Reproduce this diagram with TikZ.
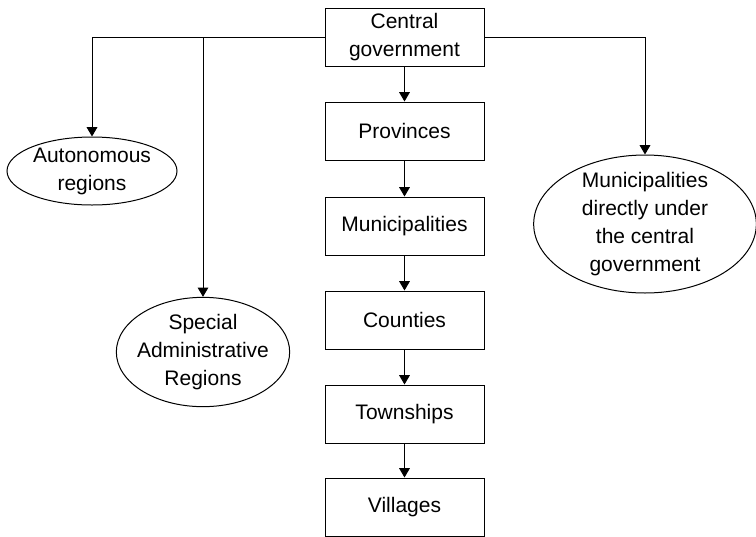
\documentclass[tikz,border=0pt]{standalone}
\usepackage{fontspec}
\setmainfont{Liberation Sans}
\usetikzlibrary{shapes.geometric,arrows.meta}

\begin{document}
\begin{tikzpicture}[x=0.75pt, y=-0.75pt,
  every node/.style={font=\fontsize{15.75}{21}\selectfont, align=center, inner sep=0pt},
  unit/.style={draw, line width=0.75pt, minimum width=119.25pt, minimum height=43.5pt},
  oval/.style={draw, ellipse, line width=0.75pt},
  link/.style={-{Triangle[width=8pt,length=7pt]}, line width=0.75pt}]
\useasboundingbox (0,0) rectangle (756,536);
% main chain
\node [unit] (central) at (404.5,37) {Central\\government};
\node [unit] (prov) at (404.5,131) {Provinces};
\node [unit] (munic) at (404.5,226) {Municipalities};
\node [unit] (county) at (404.5,320) {Counties};
\node [unit] (town) at (404.5,414) {Townships};
\node [unit] (village) at (404.5,507) {Villages};
% side branches
\node [oval, minimum width=127.5pt, minimum height=51pt] (auto) at (92,171) {Autonomous\\regions};
\node [oval, inner xsep=-6pt, inner ysep=-3pt, minimum width=130pt, minimum height=82pt] (sar) at (203,352) {Special\\Administrative\\Regions};
\node [oval, inner ysep=-5pt, minimum width=167pt, minimum height=103.5pt] (direct) at (645,224) {Municipalities\\directly under\\the central\\government};
\draw [link] (central) -- (prov);
\draw [link] (prov) -- (munic);
\draw [link] (munic) -- (county);
\draw [link] (county) -- (town);
\draw [link] (town) -- (village);
\draw [link] (central.west) -| (auto.north);
\draw [link] (central.west) -| (sar.north);
\draw [link] (central.east) -| (direct.north);
\end{tikzpicture}
\end{document}
